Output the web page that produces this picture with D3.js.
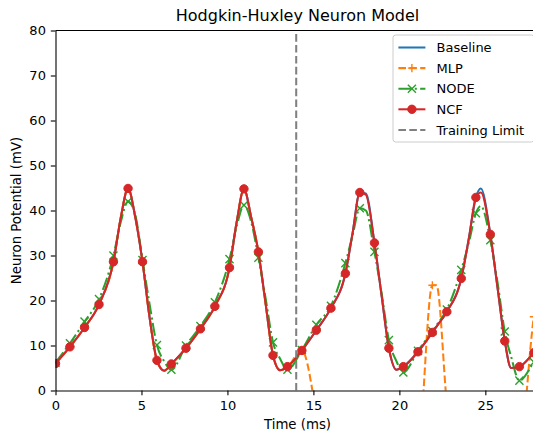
<!DOCTYPE html>
<html>
<head>
<meta charset="utf-8">
<script src="https://cdn.jsdelivr.net/npm/d3@7"></script>
<style>
	body { margin: 0; background: #fff; }
	text { font-family: "DejaVu Sans", sans-serif; fill: #000; }
</style>
</head>
<body>
<div id="chart1"></div>
<script>
// Values
var timeMs = [0.00, 0.84, 1.69, 2.53, 3.37, 3.80, 4.22, 4.64, 5.06, 5.48, 5.90, 6.32, 6.74,
	7.59, 8.43, 9.27, 10.12, 10.54, 10.96, 11.38, 11.80, 12.22, 12.65, 13.07, 13.49,
	14.33, 15.17, 16.02, 16.86, 17.28, 17.70, 18.05, 18.55, 18.97, 19.39, 19.83, 20.23,
	21.08, 21.92, 22.16, 22.76, 23.60, 24.05, 24.45, 24.74, 25.29, 25.71, 26.13, 26.50,
	26.98, 27.82, 28.66];
var baseline = [6.0, 9.7, 14.0, 19.1, 28.6, 38.5, 44.9, 38.5, 28.6, 16.0, 6.7, 4.4, 5.9,
	9.4, 13.7, 18.7, 27.3, 37.5, 44.8, 38.5, 30.8, 19.3, 7.8, 4.5, 5.3,
	8.9, 13.4, 18.3, 26.0, 35.0, 44.0, 43.8, 32.8, 21.0, 9.4, 4.6, 5.3,
	8.6, 12.9, 14.2, 17.5, 24.9, 34.0, 42.9, 44.9, 34.7, 22.8, 11.0, 5.0,
	5.3, 8.4, 12.0];
var mlp = [6.0, 9.7, 14.0, 19.1, 28.6, 38.5, 44.9, 38.5, 28.6, 16.0, 6.7, 4.4, 5.9,
	9.4, 13.7, 18.7, 27.3, 37.5, 44.8, 38.5, 30.8, 19.3, 7.8, 4.5, 5.3,
	8.9, -5.2, -28, -45, -52, -55, -54, -48, -40, -32, -26, -22,
	-15, 23.4, 23.4, -3.0, -30, -42, -50, -52, -48, -40, -32, -25,
	-17, 16.4, 30];
var node = [6.2, 10.5, 15.3, 20.3, 30.0, 37.5, 42.0, 39.0, 29.0, 19.0, 10.1, 6.5, 4.6,
	10.0, 14.3, 19.6, 29.2, 36.5, 41.2, 37.5, 29.5, 20.5, 10.7, 7.0, 4.6,
	9.0, 14.6, 18.8, 28.3, 34.5, 40.5, 40.0, 30.8, 21.5, 11.2, 6.5, 4.0,
	8.8, 13.2, 14.5, 18.0, 26.8, 33.0, 39.4, 41.0, 33.4, 24.0, 13.1, 7.5,
	2.2, 6.3, 11.0];
var ncf = [6.0, 9.7, 14.0, 19.1, 28.6, 38.5, 44.9, 38.5, 28.6, 16.0, 6.7, 4.4, 5.9,
	9.4, 13.7, 18.7, 27.3, 37.5, 44.8, 38.5, 30.8, 19.3, 7.8, 4.5, 5.3,
	8.9, 13.4, 18.3, 26.0, 35.0, 44.0, 43.5, 32.8, 21.0, 9.4, 4.6, 5.3,
	8.6, 12.9, 14.2, 17.5, 24.9, 34.0, 42.9, 44.0, 34.7, 22.8, 11.0, 5.0,
	5.3, 8.4, 12.0];
var markerTimes = [0.00, 0.84, 1.69, 2.53, 3.37, 4.22, 5.06, 5.90, 6.74, 7.59, 8.43, 9.27,
	10.12, 10.96, 11.80, 12.65, 13.49, 14.33, 15.17, 16.02, 16.86, 17.70, 18.55, 19.39,
	20.23, 21.08, 21.92, 22.76, 23.60, 24.45, 25.29, 26.13, 26.98, 27.82, 28.66];
var seriesNames = ["Baseline", "MLP", "NODE", "NCF"];
var limitLabel = "Training Limit";
var trainingLimit = 14;
var xTicks = [0, 5, 10, 15, 20, 25];
var yTicks = [0, 10, 20, 30, 40, 50, 60, 70, 80];

var chartConfig = {
	width : 533,
	height : 432,
	left : 55.5,
	top : 30.5,
	plotWidth : 484,
	plotHeight : 360,
	xMax : 28.15,
	yMax : 80,
	tickSize : 4.7,
	fontSize : 13,
	lineWidth : 2.05
};

var styles = {
	"Baseline" : {color : "#1f77b4", dash : null, marker : null},
	"MLP" : {color : "#ff7f0e", dash : "7.6,3.3", marker : "plus"},
	"NODE" : {color : "#2ca02c", dash : "13.1,3.3,2.05,3.3", marker : "cross"},
	"NCF" : {color : "#d62728", dash : null, marker : "circle"}
};

var seriesValues = [baseline, mlp, node, ncf];
var series = seriesNames.map(function(name, i) {
	return {name : name, points : timeMs.map(function(t, j) { return {t : t, v : seriesValues[i][j]}; })};
});
var markerSet = new Set(markerTimes);

var x = d3.scaleLinear().domain([0, chartConfig.xMax]).range([chartConfig.left, chartConfig.left + chartConfig.plotWidth]);
var y = d3.scaleLinear().domain([0, chartConfig.yMax]).range([chartConfig.top + chartConfig.plotHeight, chartConfig.top]);

var svg = d3.select("#chart1").append("svg")
	.attr("width", chartConfig.width)
	.attr("height", chartConfig.height)
	.style("display", "block")
	;

svg.append("defs").append("clipPath")
	.attr("id", "plotClip")
	.append("rect")
	.attr("x", chartConfig.left)
	.attr("y", chartConfig.top)
	.attr("width", chartConfig.plotWidth)
	.attr("height", chartConfig.plotHeight)
	;

// marker shapes
function drawMarker(sel, kind, color) {
	if (kind === "circle") {
		sel.append("circle").attr("r", 4.2)
			.attr("fill", color).attr("stroke", color).attr("stroke-width", 1);
	} else if (kind === "plus") {
		sel.append("path").attr("d", "M-4.05,0H4.05M0,-4.05V4.05")
			.attr("fill", "none").attr("stroke", color).attr("stroke-width", 1.4);
	} else if (kind === "cross") {
		sel.append("path").attr("d", "M-4.05,-4.05L4.05,4.05M-4.05,4.05L4.05,-4.05")
			.attr("fill", "none").attr("stroke", color).attr("stroke-width", 1.4);
	}
}

var line = d3.line()
	.curve(d3.curveMonotoneX)
	.x(function(d) { return x(d.t); })
	.y(function(d) { return y(d.v); })
	;

var plot = svg.append("g").attr("clip-path", "url(#plotClip)");

series.forEach(function(s) {
	var st = styles[s.name];
	var g = plot.append("g");
	g.append("path")
		.datum(s.points)
		.attr("d", line)
		.attr("fill", "none")
		.attr("stroke", st.color)
		.attr("stroke-width", chartConfig.lineWidth)
		.attr("stroke-linejoin", "round")
		.attr("stroke-dasharray", st.dash)
		;
	if (st.marker) {
		g.selectAll("g.mk")
			.data(s.points.filter(function(d) { return markerSet.has(d.t); }))
			.enter().append("g")
			.attr("class", "mk")
			.attr("transform", function(d) { return "translate(" + x(d.t) + "," + y(d.v) + ")"; })
			.each(function() { drawMarker(d3.select(this), st.marker, st.color); })
			;
	}
});

// training limit
plot.append("line")
	.attr("x1", x(trainingLimit)).attr("x2", x(trainingLimit))
	.attr("y1", y(0)).attr("y2", y(chartConfig.yMax))
	.attr("stroke", "#808080")
	.attr("stroke-width", chartConfig.lineWidth)
	.attr("stroke-dasharray", "7.6,3.3")
	;

// axes
var xAxis = svg.append("g")
	.attr("transform", "translate(0," + y(0) + ")")
	.call(d3.axisBottom(x).tickValues(xTicks).tickSize(chartConfig.tickSize).tickPadding(5.2).tickSizeOuter(0))
	;
var yAxis = svg.append("g")
	.attr("transform", "translate(" + x(0) + ",0)")
	.call(d3.axisLeft(y).tickValues(yTicks).tickSize(chartConfig.tickSize).tickPadding(4.9).tickSizeOuter(0))
	;
[xAxis, yAxis].forEach(function(a) {
	a.attr("font-family", null).attr("font-size", chartConfig.fontSize);
	a.selectAll("line, path").attr("stroke", "#000").attr("stroke-width", 1.1);
	a.selectAll("text").attr("fill", "#000");
});
// top and right spines
svg.append("line")
	.attr("x1", x(0)).attr("x2", x(chartConfig.xMax))
	.attr("y1", y(chartConfig.yMax)).attr("y2", y(chartConfig.yMax))
	.attr("stroke", "#000").attr("stroke-width", 1.1)
	;
svg.append("line")
	.attr("x1", x(chartConfig.xMax)).attr("x2", x(chartConfig.xMax))
	.attr("y1", y(0)).attr("y2", y(chartConfig.yMax))
	.attr("stroke", "#000").attr("stroke-width", 1.1)
	;

// titles
svg.append("text")
	.attr("x", chartConfig.left + chartConfig.plotWidth / 2)
	.attr("y", 20.5)
	.attr("text-anchor", "middle")
	.attr("font-size", 16)
	.text("Hodgkin-Huxley Neuron Model")
	;
svg.append("text")
	.attr("x", chartConfig.left + chartConfig.plotWidth / 2)
	.attr("y", 428.5)
	.attr("text-anchor", "middle")
	.attr("font-size", 13.3)
	.text("Time (ms)")
	;
svg.append("text")
	.attr("transform", "translate(21," + (chartConfig.top + chartConfig.plotHeight / 2) + ") rotate(-90)")
	.attr("text-anchor", "middle")
	.attr("font-size", 13.3)
	.text("Neuron Potential (mV)")
	;

// legend
var legend = svg.append("g").attr("transform", "translate(393,35)");
legend.append("rect")
	.attr("x", 0).attr("y", 0)
	.attr("width", 141).attr("height", 107)
	.attr("rx", 2.7)
	.attr("fill", "#fff").attr("fill-opacity", 0.8)
	.attr("stroke", "#cccccc").attr("stroke-width", 1)
	;
var legendItems = seriesNames.map(function(n) { return {name : n, style : styles[n]}; })
	.concat([{name : limitLabel, style : {color : "#808080", dash : "7.6,3.3", marker : null}}]);
legendItems.forEach(function(item, i) {
	var row = legend.append("g").attr("transform", "translate(0," + (12.5 + i * 20.6) + ")");
	row.append("line")
		.attr("x1", 5.4).attr("x2", 32.4)
		.attr("stroke", item.style.color)
		.attr("stroke-width", chartConfig.lineWidth)
		.attr("stroke-dasharray", item.style.dash)
		;
	if (item.style.marker) {
		drawMarker(row.append("g").attr("transform", "translate(18.9,0)"), item.style.marker, item.style.color);
	}
	row.append("text")
		.attr("x", 43.5)
		.attr("dy", "0.36em")
		.attr("font-size", chartConfig.fontSize)
		.text(item.name)
		;
});
</script>
</body>
</html>
